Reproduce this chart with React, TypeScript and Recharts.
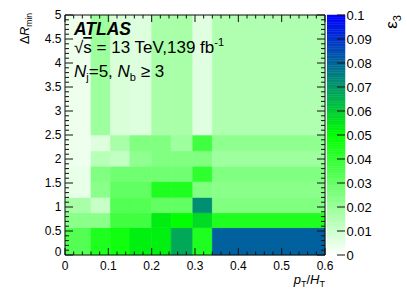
import React from 'react';
import { ComposedChart, XAxis, YAxis, ReferenceArea } from 'recharts';

// bin edges
const ptHtEdges = [0, 0.06, 0.105, 0.15, 0.2, 0.245, 0.295, 0.34, 0.6];
const dRminEdges = [0, 0.57, 0.88, 1.2, 1.53, 1.85, 2.17, 2.5, 5];

// epsilon_3 per bin, one array per dR_min row (bottom -> top), columns follow ptHtEdges
const effRow1 = [0.034, 0.044, 0.047, 0.053, 0.053, 0.067, 0.044, 0.081];
const effRow2 = [0.023, 0.023, 0.0375, 0.0375, 0.0535, 0.05, 0.057, 0.044];
const effRow3 = [0.017, 0.011, 0.034, 0.034, 0.031, 0.031, 0.072, 0.025];
const effRow4 = [0.0045, 0.023, 0.031, 0.031, 0.044, 0.044, 0.025, 0.023];
const effRow5 = [0.0045, 0.025, 0.028, 0.028, 0.028, 0.028, 0.041, 0.025];
const effRow6 = [0.0033, 0.014, 0.012, 0.022, 0.025, 0.025, 0.025, 0.019];
const effRow7 = [0.0033, 0.0067, 0.017, 0.025, 0.025, 0.019, 0.0375, 0.022];
const effRow8 = [0.0033, 0.019, 0.0076, 0.0067, 0.017, 0.017, 0.006, 0.0155];
const effRows = [effRow1, effRow2, effRow3, effRow4, effRow5, effRow6, effRow7, effRow8];

const xMajorTicks = [0, 0.1, 0.2, 0.3, 0.4, 0.5, 0.6];
const yMajorTicks = [0, 0.5, 1, 1.5, 2, 2.5, 3, 3.5, 4, 4.5, 5];
const zTicks = [0, 0.01, 0.02, 0.03, 0.04, 0.05, 0.06, 0.07, 0.08, 0.09, 0.1];
const zMax = 0.1;
const zSteps = 100; // colour levels in the scale

const FONT = "'Liberation Sans', Arial, Helvetica, sans-serif";
const INK = '#111';

// minor ticks: 5 divisions per major step
const subdivide = (major: number[], n: number) => {
  const out: number[] = [];
  for (let i = 0; i < major.length - 1; i++) {
    const step = (major[i + 1] - major[i]) / n;
    for (let k = 0; k < n; k++) out.push(+(major[i] + k * step).toFixed(4));
  }
  out.push(major[major.length - 1]);
  return out;
};
const xTicks = subdivide(xMajorTicks, 5);
const yTicks = subdivide(yMajorTicks, 5);

const isOn = (v: number, list: number[]) => list.some((m) => Math.abs(m - v) < 1e-6);
const fmt = (v: number) => String(Math.round(v * 100) / 100);

// white -> green -> blue palette
const paletteColor = (v: number) => {
  const t = Math.min(Math.max(v / zMax, 0), 1);
  let r, g, b;
  if (t < 0.5) {
    const k = t / 0.5;
    r = 255 * (1 - k); g = 255; b = 255 * (1 - k);
  } else {
    const k = (t - 0.5) / 0.5;
    r = 0; g = 255 * (1 - k); b = 255 * k;
  }
  return `rgb(${Math.round(r)},${Math.round(g)},${Math.round(b)})`;
};

const cells = effRows.flatMap((row, j) =>
  row.map((v, i) => ({
    x1: ptHtEdges[i], x2: ptHtEdges[i + 1],
    y1: dRminEdges[j], y2: dRminEdges[j + 1],
    x: (ptHtEdges[i] + ptHtEdges[i + 1]) / 2,
    y: (dRminEdges[j] + dRminEdges[j + 1]) / 2,
    fill: paletteColor(v),
  }))
);

const zLevels = Array.from({ length: zSteps }, (_, i) => ({
  y1: (i * zMax) / zSteps,
  y2: ((i + 1) * zMax) / zSteps,
  fill: paletteColor(((i + 0.5) * zMax) / zSteps),
}));
const zData = [{ x: 0, y: 0 }, { x: 1, y: zMax }];

const BottomTick = (props: any) => {
  const { x, y, payload } = props;
  const major = isOn(payload.value, xMajorTicks);
  return (
    <g>
      <line x1={x} y1={y} x2={x} y2={y - (major ? 7 : 3.5)} stroke={INK} />
      {major && (
        <text x={x} y={y + 14.5} textAnchor="middle" fontSize={12} fontFamily={FONT} fill="#000">
          {fmt(payload.value)}
        </text>
      )}
    </g>
  );
};

const TopTick = (props: any) => {
  const { x, y, payload } = props;
  const major = isOn(payload.value, xMajorTicks);
  return <line x1={x} y1={y} x2={x} y2={y + (major ? 7 : 3.5)} stroke={INK} />;
};

const LeftTick = (props: any) => {
  const { x, y, payload } = props;
  const major = isOn(payload.value, yMajorTicks);
  // ROOT lifts the label of the origin a little
  const lift = payload.value === 0 ? -3 : 0;
  return (
    <g>
      <line x1={x} y1={y} x2={x + (major ? 8 : 4)} y2={y} stroke={INK} />
      {major && (
        <text x={x - 3.5} y={y + 4.3 + lift} textAnchor="end" fontSize={12} fontFamily={FONT} fill="#000">
          {fmt(payload.value)}
        </text>
      )}
    </g>
  );
};

const RightTick = (props: any) => {
  const { x, y, payload } = props;
  const major = isOn(payload.value, yMajorTicks);
  return <line x1={x} y1={y} x2={x - (major ? 8 : 4)} y2={y} stroke={INK} />;
};

const ZTick = (props: any) => {
  const { x, y, payload } = props;
  return (
    <g>
      <line x1={x} y1={y} x2={x - 8} y2={y} stroke={INK} />
      <text x={x + 1.5} y={y + 5} textAnchor="start" fontSize={13} fontFamily={FONT} fill="#000">
        {fmt(payload.value)}
      </text>
    </g>
  );
};

const axisCommon = {
  type: 'number' as const,
  interval: 0 as const,
  tickSize: 0,
  tickMargin: 0,
  tickLine: false,
  allowDataOverflow: true,
};

export default function App() {
  return (
    <div style={{ position: 'absolute', left: 0, top: 0, width: 407, height: 305, background: '#fff' }}>
      <div style={{ position: 'absolute', left: 0, top: 0 }}>
        <ComposedChart width={407} height={305} data={cells} margin={{ top: 14, right: 81, bottom: 49, left: 64 }}>
          {cells.map((c, i) => (
            <ReferenceArea
              key={i}
              x1={c.x1}
              x2={c.x2}
              y1={c.y1}
              y2={c.y2}
              fill={c.fill}
              fillOpacity={1}
              stroke={c.fill}
              strokeWidth={0.6}
              ifOverflow="visible"
            />
          ))}
          <XAxis {...axisCommon} dataKey="x" domain={[0, 0.6]} ticks={xTicks} height={1}
            tick={BottomTick} axisLine={{ stroke: INK }} />
          <XAxis {...axisCommon} xAxisId="top" orientation="top" dataKey="x" domain={[0, 0.6]} ticks={xTicks} height={1}
            tick={TopTick} axisLine={{ stroke: INK }} />
          <YAxis {...axisCommon} dataKey="y" domain={[0, 5]} ticks={yTicks} width={1}
            tick={LeftTick} axisLine={{ stroke: INK }} />
          <YAxis {...axisCommon} yAxisId="right" orientation="right" dataKey="y" domain={[0, 5]} ticks={yTicks} width={1}
            tick={RightTick} axisLine={{ stroke: INK }} />
        </ComposedChart>
      </div>

      {/* colour scale */}
      <div style={{ position: 'absolute', left: 327, top: 0 }}>
        <ComposedChart width={80} height={305} data={zData} margin={{ top: 15, right: 61, bottom: 50, left: 0 }}>
          {zLevels.map((l, i) => (
            <ReferenceArea
              key={i}
              x1={0}
              x2={1}
              y1={l.y1}
              y2={l.y2}
              fill={l.fill}
              fillOpacity={1}
              stroke={l.fill}
              strokeWidth={0.5}
              ifOverflow="visible"
            />
          ))}
          <XAxis type="number" dataKey="x" domain={[0, 1]} hide allowDataOverflow />
          <YAxis {...axisCommon} orientation="right" dataKey="y" domain={[0, zMax]} ticks={zTicks} width={1}
            tick={ZTick} axisLine={false} />
        </ComposedChart>
      </div>

      {/* titles and ATLAS label */}
      <svg width={407} height={305} style={{ position: 'absolute', left: 0, top: 0, pointerEvents: 'none' }} fontFamily={FONT}>
        <text x={74} y={35} fontSize={17.5} fontWeight="bold" fontStyle="italic">ATLAS</text>
        <text x={74} y={53} fontSize={17}>
          √<tspan style={{ textDecoration: 'overline' }}>s</tspan> = 13 TeV,139 fb
          <tspan dy={-7} fontSize={11}>-1</tspan>
        </text>
        <text x={74} y={77} fontSize={17}>
          <tspan fontStyle="italic">N</tspan>
          <tspan dy={4} fontSize={11}>j</tspan>
          <tspan dy={-4}>=5, </tspan>
          <tspan fontStyle="italic">N</tspan>
          <tspan dy={4} fontSize={11}>b</tspan>
          <tspan dy={-4}> ≥ 3</tspan>
        </text>
        <text x={325} y={284} textAnchor="end" fontSize={13}>
          <tspan fontStyle="italic">p</tspan>
          <tspan dy={3} fontSize={9}>T</tspan>
          <tspan dy={-3}>/</tspan>
          <tspan fontStyle="italic">H</tspan>
          <tspan dy={3} fontSize={9}>T</tspan>
        </text>
        <text x={29} y={13} textAnchor="end" fontSize={12.5} transform="rotate(-90 29 13)">
          Δ<tspan fontStyle="italic">R</tspan>
          <tspan dy={3} fontSize={8.5}>min</tspan>
        </text>
        <text x={397} y={15} textAnchor="end" fontSize={17} transform="rotate(-90 397 15)">
          ε<tspan dy={4} fontSize={11}>3</tspan>
        </text>
      </svg>
    </div>
  );
}
